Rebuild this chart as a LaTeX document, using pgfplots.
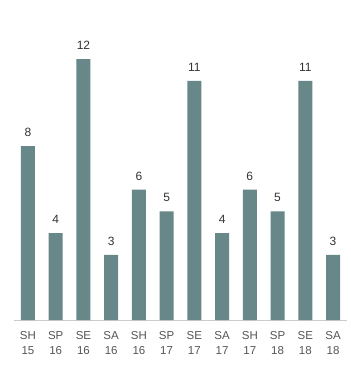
\documentclass[border=0pt]{standalone}
\usepackage{pgfplots}
\pgfplotsset{compat=1.18}
\usepackage{fontspec}
\setmainfont{Liberation Sans}
\definecolor{barc}{HTML}{678788}
\definecolor{vlab}{HTML}{333333}
\definecolor{tlab}{HTML}{555555}
\definecolor{axl}{HTML}{CCCCCC}
\begin{document}
\begin{tikzpicture}
\begin{axis}[
  /pgf/number format/assume math mode=true,
  scale only axis,
  width=332.8bp, height=320bp,
  xmin=-0.5, xmax=11.5,
  ymin=0, ymax=14.713,
  axis x line*=bottom,
  axis y line=none,
  x axis line style={draw=axl, line width=0.8bp, -},
  xtick=data,
  xticklabels={{SH\\15},{SP\\16},{SE\\16},{SA\\16},{SH\\16},{SP\\17},{SE\\17},{SA\\17},{SH\\17},{SP\\18},{SE\\18},{SA\\18}},
  xticklabel style={align=center, text=tlab, font=\fontsize{11.5bp}{15bp}\selectfont, inner sep=0pt, yshift=-11bp},
  major tick length=0pt,
  ytick=\empty,
  clip=false,
  nodes near coords,
  every node near coord/.append style={text=vlab, font=\fontsize{12bp}{14bp}\selectfont, inner sep=0pt, anchor=south, yshift=9bp},
]
\addplot[ybar, bar width=14bp, fill=barc, draw=none] coordinates {
 (0,8) (1,4) (2,12) (3,3) (4,6) (5,5) (6,11) (7,4) (8,6) (9,5) (10,11) (11,3)
};
\end{axis}
\pgfresetboundingbox
\path[use as bounding box] (-14.1bp,-50bp) rectangle (336.9bp,320bp);
\end{tikzpicture}
\end{document}
